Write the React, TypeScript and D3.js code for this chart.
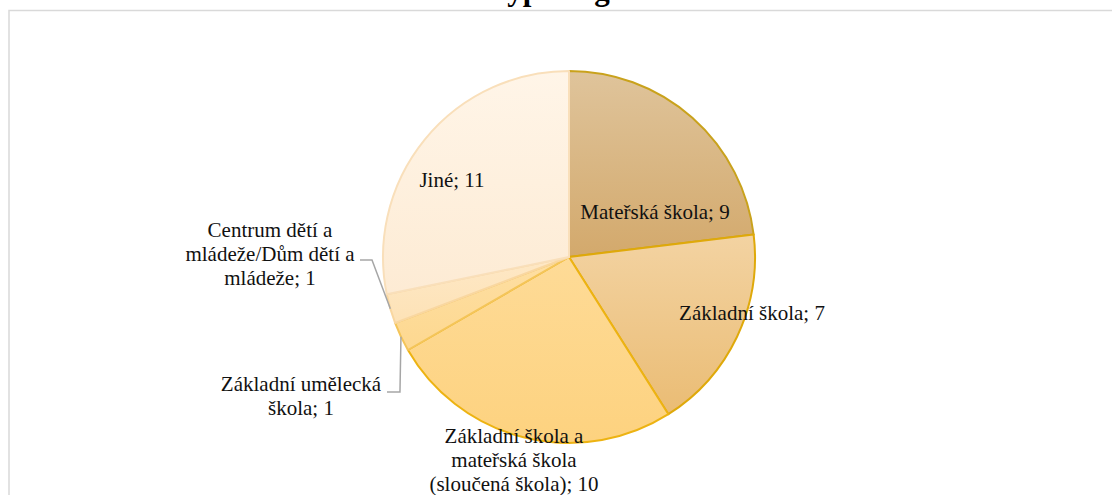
import React from "react";
import * as d3 from "d3";

const categories = [
  "Mateřská škola",
  "Základní škola",
  "Základní škola a mateřská škola (sloučená škola)",
  "Základní umělecká škola",
  "Centrum dětí a mládeže/Dům dětí a mládeže",
  "Jiné",
];
const values = [9, 7, 10, 1, 1, 11];
const labelLines = [
  ["Mateřská škola; 9"],
  ["Základní škola; 7"],
  ["Základní škola a", "mateřská škola", "(sloučená škola); 10"],
  ["Základní umělecká", "škola; 1"],
  ["Centrum dětí a", "mládeže/Dům dětí a", "mládeže; 1"],
  ["Jiné; 11"],
];
const titleStart = "Členění dle";
const titleEnd = "typu organizace";

// styles
const fillTop = ["#dfc49b", "#f3d3a2", "#fedb97", "#fedfa3", "#fee8c6", "#fff5e8"];
const fillBottom = ["#d3a96c", "#eabc74", "#fdd27f", "#fdd890", "#fde2b6", "#fdebd4"];
const strokes = ["#c9a21c", "#dfa90a", "#edb312", "#f4c55a", "#f9d7a0", "#f9dfba"];
// label anchor offsets from pie centre (x, first baseline y)
const labelOffsets = [
  [86, -38],
  [183, 63],
  [-55, 186],
  [-268, 134],
  [-299, -20],
  [-117, -70],
];

export default function App() {
  const W = 1112;
  const H = 495;
  const cx = 569;
  const cy = 257;
  const r = 186;

  const pie = d3
    .pie<number>()
    .sort(null)
    .value((d) => d)
    .startAngle(0)
    .endAngle(2 * Math.PI);
  const arcs = pie(values);
  const arcGen = d3.arc<d3.PieArcDatum<number>>().innerRadius(0).outerRadius(r);

  const edgePoint = (a: d3.PieArcDatum<number>) => {
    const m = (a.startAngle + a.endAngle) / 2;
    return [cx + r * Math.sin(m), cy - r * Math.cos(m)];
  };

  const zus = edgePoint(arcs[3]);
  const cdm = edgePoint(arcs[4]);
  const zusLeader = [zus, [zus[0] - 1, cy + 135], [cx - 182, cy + 135]];
  const cdmLeader = [cdm, [cx - 197, cy + 3], [cx - 209, cy + 3]];
  const line = d3.line();

  return (
    <svg
      width={W}
      height={H}
      style={{ position: "absolute", left: 0, top: 0, background: "#fff" }}
      fontFamily="'Liberation Serif', 'Times New Roman', serif"
    >
      <defs>
        {arcs.map((a, i) => (
          <linearGradient key={i} id={`g${i}`} x1="0" y1="0" x2="0" y2="1">
            <stop offset="0" stopColor={fillTop[i]} />
            <stop offset="1" stopColor={fillBottom[i]} />
          </linearGradient>
        ))}
      </defs>
      <rect x={9} y={10.5} width={1200} height={600} fill="#fff" stroke="#d9d9d9" strokeWidth={1.5} />
      <text x={489} y={-0.5} fontSize={31} fontWeight="bold" textAnchor="end" fill="#000">
        {titleStart}
      </text>
      <text x={497} y={-0.5} fontSize={31} fontWeight="bold" textAnchor="start" fill="#000">
        {titleEnd}
      </text>
      <g transform={`translate(${cx},${cy})`}>
        {arcs.map((a, i) => (
          <path
            key={i}
            d={arcGen(a) || ""}
            fill={`url(#g${i})`}
            stroke={strokes[i]}
            strokeWidth={2}
            strokeLinejoin="round"
          >
            <title>{categories[i]}</title>
          </path>
        ))}
      </g>
      <path d={line(zusLeader as [number, number][]) || ""} fill="none" stroke="#a6a6a6" strokeWidth={1.5} />
      <path d={line(cdmLeader as [number, number][]) || ""} fill="none" stroke="#a6a6a6" strokeWidth={1.5} />
      {labelLines.map((lines, i) => (
        <text
          key={i}
          x={cx + labelOffsets[i][0]}
          y={cy + labelOffsets[i][1]}
          fontSize={21}
          textAnchor="middle"
          fill="#111"
        >
          {lines.map((l, j) => (
            <tspan key={j} x={cx + labelOffsets[i][0]} dy={j === 0 ? 0 : 24}>
              {l}
            </tspan>
          ))}
        </text>
      ))}
    </svg>
  );
}
